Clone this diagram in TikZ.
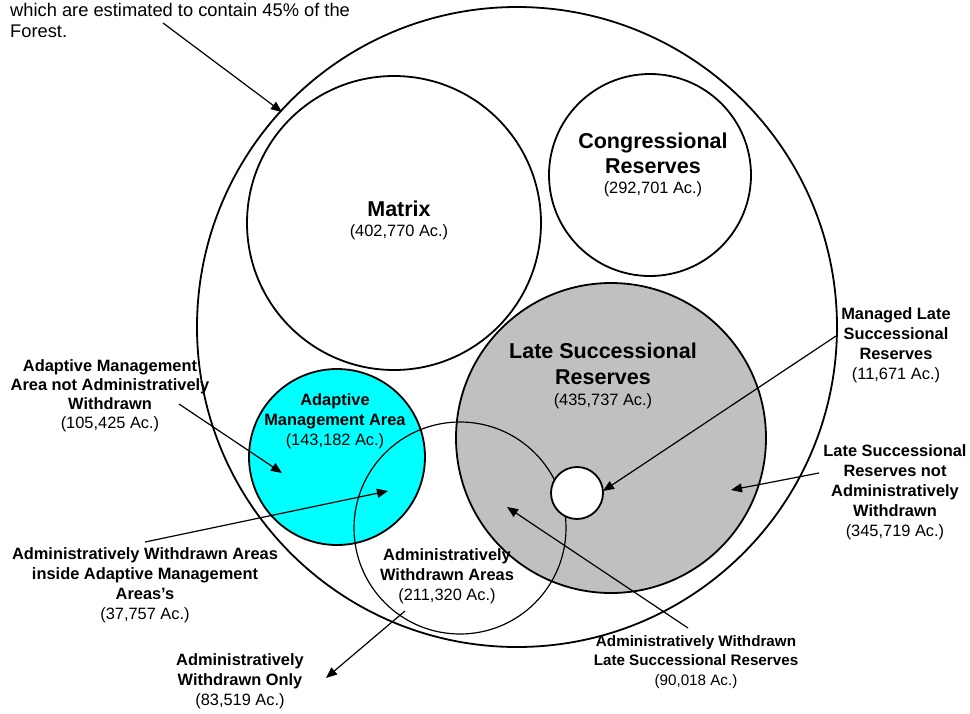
\documentclass[tikz,border=0pt]{standalone}
\usepackage{fontspec}
\setmainfont{Liberation Sans}
\usetikzlibrary{arrows.meta}
\definecolor{amacyan}{RGB}{0,255,255}
\definecolor{lsrgrey}{RGB}{192,192,192}
\newcommand{\hdr}[1]{{\fontsize{21.5}{25}\selectfont\bfseries #1}}
\begin{document}
\begin{tikzpicture}[x=1pt,y=-1pt,>={Triangle[length=11pt,width=9pt]}]
	\tikzstyle{area}=[draw=black, line width=1.8pt]
	\tikzstyle{tag}=[align=center, inner sep=0pt, font=\fontsize{16.4}{20}\selectfont]
	\tikzstyle{pointer}=[->, draw=black, line width=1.2pt]

	\useasboundingbox (0,0) rectangle (970,713);

	% forest and allocations
	\draw[area, fill=white] (517,327) circle (320);
	\draw[area] (394,223) circle (147);
	\draw[area] (650,175) circle (101);
	\draw[area, fill=lsrgrey] (611,438) circle (155);
	\draw[area, fill=amacyan] (337,457) circle (88);
	\draw[draw=black, line width=1.2pt] (460,528) circle (106);
	\draw[area, fill=white] (577,493) circle (26);

	% labels inside
	\node [tag] (mtx) at (399,220) {\hdr{Matrix}\\(402,770 Ac.)};
	\node [tag] (cong) at (653,165) {\hdr{Congressional}\\[5pt]\hdr{Reserves}\\(292,701 Ac.)};
	\node [tag] (lsr) at (603,376) {\hdr{Late Successional}\\[6pt]\hdr{Reserves}\\[1pt](435,737 Ac.)};
	\node [tag] (ama) at (335,421) {\textbf{Adaptive}\\\textbf{Management Area}\\(143,182 Ac.)};
	\node [tag] (aw) at (447,576) {\textbf{Administratively}\\\textbf{Withdrawn Areas}\\(211,320 Ac.)};

	% labels outside
	\node [anchor=north west, align=left, inner sep=0pt, font=\fontsize{18.3}{21}\selectfont] (forest) at (10,3) {which are estimated to contain 45\% of the\\Forest.};
	\node [tag, font=\fontsize{16.4}{19}\selectfont] (amanot) at (110,396) {\textbf{Adaptive Management}\\\textbf{Area not Administratively}\\\textbf{Withdrawn}\\(105,425 Ac.)};
	\node [tag] (awinama) at (145,585) {\textbf{Administratively Withdrawn Areas}\\\textbf{inside Adaptive Management}\\\textbf{Areas’s}\\(37,757 Ac.)};
	\node [tag] (awonly) at (240,681) {\textbf{Administratively}\\\textbf{Withdrawn Only}\\(83,519 Ac.)};
	\node [tag] (mlsr) at (896,345) {\textbf{Managed Late}\\\textbf{Successional}\\\textbf{Reserves}\\(11,671 Ac.)};
	\node [tag] (lsrnot) at (895,492) {\textbf{Late Successional}\\\textbf{Reserves not}\\\textbf{Administratively}\\\textbf{Withdrawn}\\(345,719 Ac.)};
	\node [tag, font=\fontsize{15.2}{19.5}\selectfont] (awlsr) at (696,662) {\textbf{Administratively Withdrawn}\\\textbf{Late Successional Reserves}\\(90,018 Ac.)};

	% arrow ends
	\coordinate (forest-s) at (163,23);   \coordinate (forest-e) at (282,112);
	\coordinate (amanot-s) at (179,404);  \coordinate (amanot-e) at (282,473);
	\coordinate (awinama-s) at (145,542); \coordinate (awinama-e) at (388,491);
	\coordinate (awonly-s) at (405,611);  \coordinate (awonly-e) at (326,678);
	\coordinate (mlsr-s) at (836,336);    \coordinate (mlsr-e) at (603,491);
	\coordinate (lsrnot-s) at (819,473);  \coordinate (lsrnot-e) at (731,490);
	\coordinate (awlsr-s) at (688,628);   \coordinate (awlsr-e) at (507,507);

	\path[pointer] (forest-s) -- (forest-e);
	\path[pointer] (amanot-s) -- (amanot-e);
	\path[pointer] (awinama-s) -- (awinama-e);
	\path[pointer] (awonly-s) -- (awonly-e);
	\path[pointer] (mlsr-s) -- (mlsr-e);
	\path[pointer] (lsrnot-s) -- (lsrnot-e);
	\path[pointer] (awlsr-s) -- (awlsr-e);
\end{tikzpicture}
\end{document}
